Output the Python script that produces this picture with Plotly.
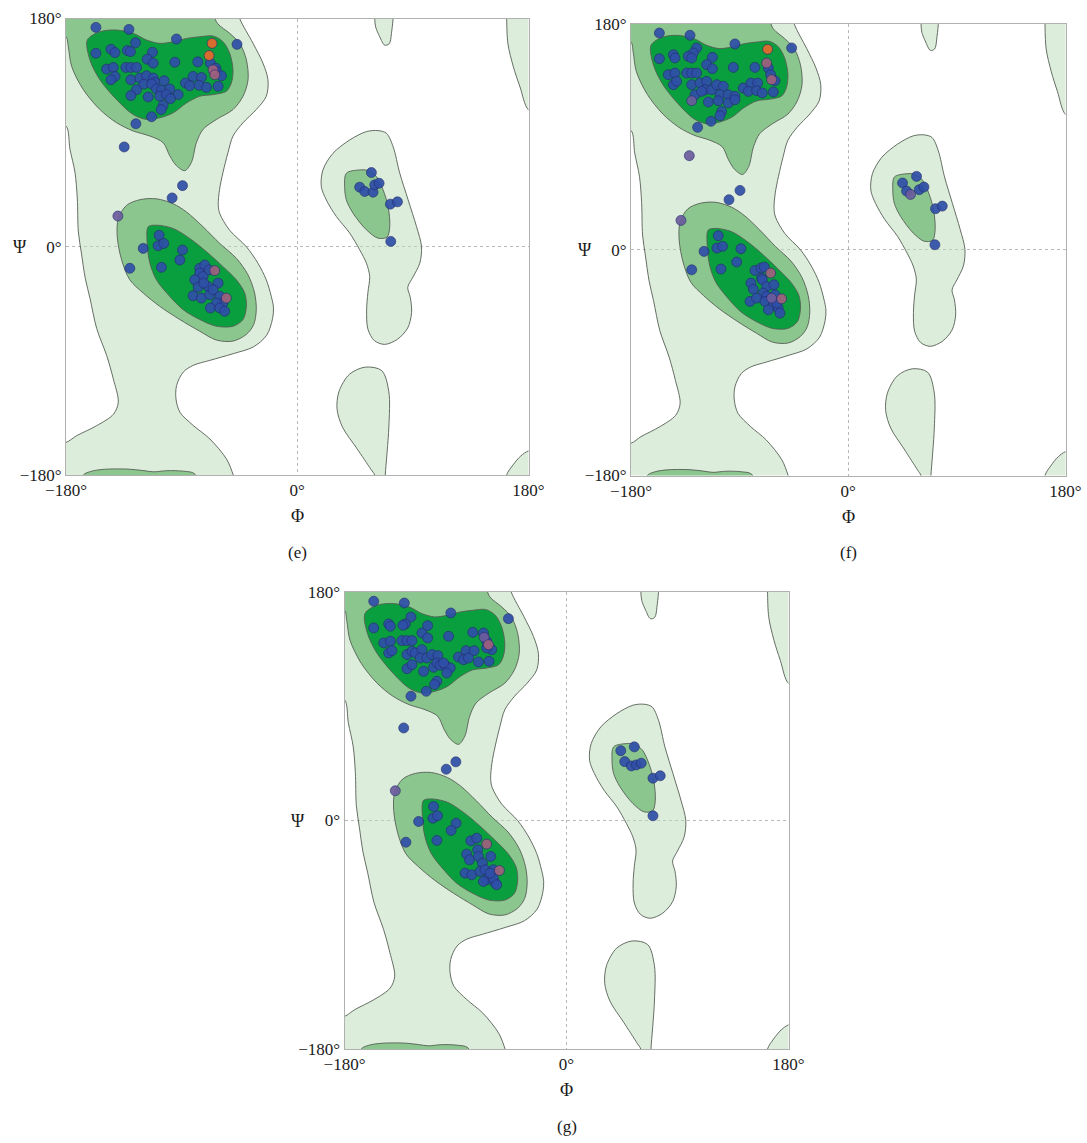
import plotly.graph_objects as go

# ---------------- contour regions (phi, psi in degrees) ----------------
LIGHT_MAIN_PHI = [-190, -47, -44.8, -34.4, -26.7, -22.8, -24.1, -31.9, -42.2, -50, -53.9, -57.8, -60.5, -61.5, -60.3, -52.6, -39.6,
                  -30.6, -24.1, -20.2, -18.5, -19.2, -23.8, -34.2, -49.8, -68, -80.9, -88.7, -93.9, -94.4, -91.3, -80.9, -68,
                  -55, -49.8, -47, -190, -190, -180, -171.7, -156.1, -143, -139.3, -143.2, -148.4, -156.1, -161.3, -165,
                  -168, -170.4, -171.2, -173, -176.9, -180, -190, -190]
LIGHT_MAIN_PSI = [190, 190, 180, 160.4, 144.8, 131.7, 118.7, 108.2, 97.8, 87.3, 74.3, 58.6, 45, 33, 26.1, 13, 0,
                  -13, -26.1, -39.2, -48, -56.6, -69.8, -79, -84.3, -89.6, -93.5, -98.8, -109.4, -119.9, -130.5, -141, -151.6,
                  -167.5, -180, -190, -190, -155, -154.3, -149, -141.1, -132, -122.6, -104.1, -85.6, -64.5, -40.7, -24.9,
                  -5, 11.7, 37.8, 58.6, 76.9, 95.2, 97, 190]

LIGHT_LH_PHI = [53.8, 62.9, 69.4, 74.6, 79.8, 86.3, 92.8, 96.7, 95.4, 90, 86, 88, 89, 86, 78, 68, 60, 55, 54, 55,
                56.4, 53.8, 48.6, 40.8, 30.4, 22.6, 18.7, 20, 27.8, 40.8, 53.8]
LIGHT_LH_PSI = [90.8, 91.6, 89.5, 79, 58, 37, 16, 0.3, -12.9, -24, -32, -40, -52, -64, -73, -77, -74, -65, -50, -36,
                -23.4, -12.9, -2.4, 10.8, 23.9, 37, 47.5, 60.6, 73.7, 84.2, 90.8]

LIGHT_TOPMID_PHI = [60.3, 60.3, 61, 64.2, 68, 71.5, 73.3, 73.3, 60.3]
LIGHT_TOPMID_PSI = [190, 180, 173.4, 165.6, 159, 160, 168, 190, 190]

LIGHT_TOPRIGHT_PHI = [163, 190, 190, 180, 173.4, 168.2, 164, 163, 163]
LIGHT_TOPRIGHT_PSI = [190, 190, 106, 108, 126, 142, 160, 180, 190]

LIGHT_BOTRIGHT_PHI = [163, 163, 168, 174, 180, 190, 190, 163]
LIGHT_BOTRIGHT_PSI = [-190, -180, -172, -165, -161, -160, -190, -190]

LIGHT_BOTMID_PHI = [40.7, 53.2, 65.8, 71.3, 71.3, 68.5, 68, 60, 60.2, 57.4, 46.3, 35.2, 31, 32.4, 40.7]
LIGHT_BOTMID_PSI = [-100.5, -94.9, -97.7, -114.4, -142.2, -180, -190, -190, -180, -175.6, -158.9, -142.2, -128.3, -114.4, -100.5]

MED_BETA_PHI = [-190, -70, -62, -52.6, -44.8, -39.6, -38.3, -42.2, -50, -62.9, -73.3, -78.5, -82.4, -87.5, -94, -99.2,
                -104.4, -114.7, -127.7, -140.6, -153.6, -166.5, -175.6, -178.2, -180, -190, -190]
MED_BETA_PSI = [190, 190, 176, 168.3, 160.4, 147.4, 131.7, 118.7, 108.2, 100.4, 92.6, 82.1, 66.5, 60, 63.9, 71.7,
                82.1, 87.3, 91.3, 97.8, 108.2, 123.9, 142.2, 157.8, 165.6, 167, 190]

MED_BOT_PHI = [-168, -166.5, -160, -150, -132.8, -120, -112, -101.7, -88.7, -80, -78, -168]
MED_BOT_PSI = [-190, -180, -177, -175.5, -175.3, -176.5, -177.5, -176.6, -177, -179, -190, -190]

MED_ALPHA_PHI = [-139.3, -132.9, -122.5, -109.6, -96.6, -86.2, -73.3, -60.3, -47.4, -38.3, -33.2, -31.9, -33.9, -39.6,
                 -50, -62.9, -75.9, -91.4, -107, -119.9, -130.3, -136.7, -140.1, -139.3]
MED_ALPHA_PSI = [22.2, 32.6, 37.1, 37.8, 33.9, 27.4, 15.7, 2.6, -9.1, -22.2, -36.5, -49.6, -61.3, -69.1,
                 -74.4, -73.6, -66.6, -57.4, -47, -36.5, -26.1, -10.4, 7.8, 22.2]

MED_LH_PHI = [38.2, 48.6, 55.1, 61.6, 66.8, 70.7, 72, 69.9, 62.9, 53.8, 43.4, 38.2, 36.9, 38.2]
MED_LH_PSI = [58, 60.6, 60.1, 55.4, 44.9, 31.7, 16, 7.6, 6.8, 13.4, 26.5, 37, 47.5, 58]

DARK_BETA_PHI = [-163.4, -153.6, -140.6, -127.7, -117.3, -107, -96.6, -86.2, -75.9, -65.5, -57.8, -52.6, -50, -51.3,
                 -55.2, -65.5, -75.9, -86.2, -96.6, -107, -117.3, -127.7, -140.6, -153.6, -161.4, -163.4]
DARK_BETA_PSI = [163, 169.6, 170.9, 168.3, 163, 160.4, 161.7, 164.3, 165.6, 166.2, 161.7, 152.6, 139.5, 129.1,
                 122.6, 120, 118.7, 113.4, 105.6, 101.7, 100.4, 104.3, 116, 131.7, 147.4, 163]

DARK_ALPHA_PHI = [-116, -109.6, -96.6, -83.7, -70.7, -57.8, -47.4, -40.9, -39.6, -42.2, -50, -62.9, -75.9, -88.8,
                  -99.2, -109.6, -114.7, -116.8, -116]
DARK_ALPHA_PSI = [15.7, 17, 14.4, 6.5, -3.9, -15.7, -26.1, -36.5, -47, -57.4, -62.7, -62.7, -57.4, -49.6,
                  -39.2, -26.1, -13, 2.6, 15.7]

# ---------------- residues, panel (e) ----------------
E_BLUE_PHI = [-156.7, -131.0, -94, -125.9, -156.7, -145, -141.9, -132.3, -129.8, -112.7, -116.8, -112.1, -95.3, -77.4,
              -67.6, -63.4, -62.9, -148.4, -143.2, -141.9, -145, -133.4, -129.5, -125.1, -129.5, -122.5, -117.3, -112.1,
              -110.8, -103.6, -125.1, -119.4, -113.4, -109.6, -105.7, -99.2, -107, -101.8, -92.7, -129.5, -116, -98.7,
              -87, -83.7, -81.1, -74.6, -76.4, -70.7, -61.6, -59, -104.4, -105.9, -113.4, -125.6, -134.7, -46.9,
              -89.3, -97.4,
              -107.5, -108.3, -103.9, -119.9, -89.3, -91.4, -130.3, -105.7, -75.9, -72, -68.6, -75.9, -73.3, -79.8,
              -77.2, -69.4, -61.6, -72.8, -81.1, -74.6, -68.1, -65.5, -60.3, -57.8, -62.9, -67.6, -60.3, -56.5,
              57.7, 48.6, 52.5, 59, 60.3, 63.7, 72.5, 78, 72.8]
E_BLUE_PSI = [173, 171.4, 163.8, 160.9, 152.6, 155.7, 153.1, 154.7, 153.9, 153.4, 147.9, 144.8, 145.5, 145.8,
              144.8, 140.9, 138.2, 140.1, 141.4, 134.3, 131.7, 141.4, 141.4, 141.4, 131.7, 133, 134.8, 133,
              129.6, 130.9, 123.9, 128.3, 128.3, 124.4, 123.4, 124.4, 118.7, 120, 120, 119.2, 118.1, 116.8,
              129.1, 127, 134.3, 133.5, 127.3, 125.7, 126.5, 134.8, 111.4, 108.2, 102.5, 97, 78.7, 159.6,
              48.2, 38.5,
              9.1, 0.8, 2.6, -1.3, -2.6, -10.4, -17, -16.2, -17, -14.4, -18.3, -20.9, -23.5, -26.1,
              -31.9, -31.3, -28.7, -28.7, -38.6, -40.5, -37.8, -33.9, -39.1, -44.4, -44.4, -48.3, -48.3, -50.9,
              58.5, 47, 43.6, 43, 48.8, 50.1, 33.6, 35.4, 4.2]
E_ORANGE_PHI = [-66.3, -68.6]
E_ORANGE_PSI = [160.4, 150.8]
E_RED_PHI = [-65.5, -64.2, -64.2, -55.2]
E_RED_PSI = [139.5, 135.6, -18.8, -40.5]
E_PURPLE_PHI = [-139.6]
E_PURPLE_PSI = [24.2]

# ---------------- residues, panel (f) ----------------
F_BLUE_PHI = [-156.5, -131.1, -93.9, -46.9, -125.6, -128.4, -156.5, -144.9, -143.6, -132.5, -129.7, -112.6, -117.3,
              -112.6, -95.2, -77.3, -66.2, -64.3, -60.7, -149.1, -143.6, -144.9, -142.2, -133.9, -129.7, -125.6,
              -129.7, -122.8, -117.3, -118.7, -113.2, -109, -103.5, -127, -121.5, -106.3, -99.4, -93.9, -115.9,
              -107.7, -99.4, -93.9, -87, -80.6, -75.1, -82.8, -75.9, -71.2, -62.1, -104.9, -106.3, -113.7, -124.8,
              -89.7, -98.8,
              -107.7, -108.8, -104.1, -119.5, -88.9, -92.5, -129.7, -105.5, -77.3, -72.3, -69.6, -71.8, -80.6, -78.7,
              -71.2, -67.6, -61.6, -70.4, -81.4, -75.9, -67.6, -60.7, -69, -62.1, -58, -66.2, -56.6, -59.3,
              56.6, 45, 48.3, 58.8, 62.7, 72.3, 77.9, 71.8]
F_BLUE_PSI = [172.8, 171, 164.1, 160.9, 160.9, 156.9, 152.3, 155.5, 152.9, 154.2, 152.9, 153.4, 147.6,
              144.4, 145.4, 145.4, 144.9, 139.6, 134.8, 139.6, 140.9, 131.6, 134.3, 140.9, 140.9, 140.9,
              131.6, 132.9, 134.3, 127.6, 127.6, 131.6, 130.3, 123.6, 126.3, 123.6, 123.6, 122.3, 117.8,
              118.8, 117, 119.6, 128.9, 132.9, 132.9, 126.3, 126.8, 125, 125.8, 110.3, 106.9, 102.4, 97.6,
              47.3, 39.9,
              11.2, 1.3, 2.7, -1.3, 0.8, -9.8, -16, -15.4, -16.5, -14.6, -13.8, -22.6, -26.6, -31.4,
              -23.9, -29.3, -27.9, -34.6, -41.2, -38.6, -37.2, -35.9, -41.2, -43.9, -46.5, -47.9, -50.5, -42.5,
              58.5, 53.2, 46.8, 47.9, 50, 32.7, 34.8, 4]
F_ORANGE_PHI = [-66.8]
F_ORANGE_PSI = [159.8]
F_RED_PHI = [-67.6, -63.5, -64.3, -55.2]
F_RED_PSI = [148.9, 135.6, -18.6, -39.1]
F_PURPLE_PHI = [-131.7, -138.6, -129.7, -63.5, 51.6]
F_PURPLE_PSI = [75, 23.4, 118.8, -38.6, 44.1]

# ---------------- residues, panel (g) ----------------
G_BLUE_PHI = [-156.3, -131.5, -93.8, -47.1, -126.1, -130.7, -132.6, -156.3, -144.2, -142.8, -117.2, -112.6, -112.6,
              -95.6, -76, -67.3, -64.7, -60.6, -64.7, -148.2, -142.8, -144.2, -141.5, -133.4, -129.3, -125.3, -129.3,
              -125.3, -122.6, -117.2, -118.6, -113.2, -109.1, -104.3, -129.3, -125.3, -115.9, -107.8, -105.1, -102.4,
              -98.3, -94.3, -97, -99.7, -87.6, -81.4, -74.9, -83.5, -79.5, -71.4, -62.8, -105.1, -107, -113.7, -126.1,
              -132, -89.7, -97.5,
              -107.8, -108.3, -104.6, -119.9, -89.5, -93.5, -130.2, -105.1, -77.6, -72.8, -72, -80.9, -78.7, -71.4,
              -68.2, -61.4, -82.2, -76.8, -70.1, -66, -59.3, -64.7, -57.9, -67.4, -59.3, -56.6, -62,
              44, 55, 47.2, 52.6, 56.6, 60.6, 70.1, 76, 70.1]
G_BLUE_PSI = [172.7, 171.3, 163.5, 159, 160.3, 154.8, 153.8, 151.7, 154.8, 153, 147.7, 153.5, 143.8,
              145.1, 148.2, 147.7, 141.2, 134.6, 135.9, 139.9, 141.2, 132, 133.8, 141.7, 141.7, 141.7, 130.7,
              133.3, 132, 134.6, 128, 128, 130.7, 129.9, 119.6, 122.8, 117.5, 120.7, 124.1, 122.3,
              122.3, 120.2, 116.2, 124.1, 128.8, 133.8, 133.8, 126.7, 128, 124.9, 125.4, 109.7, 107.1, 101.8, 97.9,
              72.9, 46.2, 40.4,
              11, 1.8, 3.7, -0.8, -2.1, -7.9, -17.1, -15.7, -16, -13.9, -23.1, -26.5, -31, -28.3,
              -33.6, -28.3, -41.5, -42.8, -40.1, -38.8, -38.8, -46.7, -49.3, -48, -45.4, -50.6, -41.5,
              55, 58, 46.4, 43, 43.8, 45.1, 33.3, 35.2, 3.7]
G_RED_PHI = [-63.3, -64.7, -54.4]
G_RED_PSI = [138.5, -18.6, -39.4]
G_PURPLE_PHI = [-66.8, -138.8]
G_PURPLE_PSI = [144.3, 23.4]

AXIS_LABELS = ["\u2212180\u00b0", "0\u00b0", "180\u00b0"]
AXIS_VALS = [-180, 0, 180]

LIGHT = "rgba(190,221,186,0.52)"
MED = "rgb(140,198,143)"
DARK = "rgb(10,159,62)"
EDGE = "rgba(85,95,85,0.9)"
FONT = "Liberation Serif"

panels = [
    dict(ax="", dom_x=(66, 528.5), dom_y=(18.5, 475), label="(e)",
         blue=(E_BLUE_PHI, E_BLUE_PSI), orange=(E_ORANGE_PHI, E_ORANGE_PSI),
         red=(E_RED_PHI, E_RED_PSI), purple=(E_PURPLE_PHI, E_PURPLE_PSI)),
    dict(ax="2", dom_x=(631, 1065.5), dom_y=(24, 475.5), label="(f)",
         blue=(F_BLUE_PHI, F_BLUE_PSI), orange=(F_ORANGE_PHI, F_ORANGE_PSI),
         red=(F_RED_PHI, F_RED_PSI), purple=(F_PURPLE_PHI, F_PURPLE_PSI)),
    dict(ax="3", dom_x=(344.5, 788.5), dom_y=(592, 1049), label="(g)",
         blue=(G_BLUE_PHI, G_BLUE_PSI), orange=([], []),
         red=(G_RED_PHI, G_RED_PSI), purple=(G_PURPLE_PHI, G_PURPLE_PSI)),
]

W, H = 1087, 1143
fig = go.Figure()

regions = [
    (LIGHT_MAIN_PHI, LIGHT_MAIN_PSI, LIGHT), (LIGHT_LH_PHI, LIGHT_LH_PSI, LIGHT),
    (LIGHT_TOPMID_PHI, LIGHT_TOPMID_PSI, LIGHT), (LIGHT_TOPRIGHT_PHI, LIGHT_TOPRIGHT_PSI, LIGHT),
    (LIGHT_BOTRIGHT_PHI, LIGHT_BOTRIGHT_PSI, LIGHT), (LIGHT_BOTMID_PHI, LIGHT_BOTMID_PSI, LIGHT),
    (MED_BETA_PHI, MED_BETA_PSI, MED), (MED_BOT_PHI, MED_BOT_PSI, MED),
    (MED_ALPHA_PHI, MED_ALPHA_PSI, MED), (MED_LH_PHI, MED_LH_PSI, MED),
    (DARK_BETA_PHI, DARK_BETA_PSI, DARK), (DARK_ALPHA_PHI, DARK_ALPHA_PSI, DARK),
]

layout = dict(width=W, height=H, margin=dict(l=0, r=0, t=0, b=0, autoexpand=False), showlegend=False,
              plot_bgcolor="white", paper_bgcolor="white", annotations=[])

for p in panels:
    a = p["ax"]
    xa, ya = "x" + a, "y" + a
    for phi, psi, col in regions:
        fig.add_trace(go.Scatter(x=phi, y=psi, mode="lines", fill="toself", fillcolor=col,
                                 line=dict(color=EDGE, width=1, shape="spline", smoothing=0.9),
                                 hoverinfo="skip", xaxis=xa, yaxis=ya))
    for key, col in [("blue", "#2f4fa8"), ("purple", "#6c5c9e"), ("red", "#a0607e"), ("orange", "#e8692d")]:
        px_, py_ = p[key]
        if len(px_) == 0:
            continue
        fig.add_trace(go.Scatter(x=px_, y=py_, mode="markers",
                                 marker=dict(size=10, color=col, opacity=0.92,
                                             line=dict(color="rgba(35,45,110,0.85)", width=0.8)),
                                 xaxis=xa, yaxis=ya))
    x0, x1 = p["dom_x"]
    y0, y1 = p["dom_y"]
    axis_common = dict(range=[-180, 180], tickvals=AXIS_VALS, ticktext=AXIS_LABELS, showgrid=True,
                       gridcolor="#b8b8b8", griddash="3px,3px", gridwidth=1, zeroline=False,
                       showline=True, linecolor="#b0b0b0", linewidth=1, mirror=True, ticks="",
                       automargin=False,
                       tickfont=dict(family=FONT, size=17, color="#1a1a1a"), fixedrange=True)
    layout["xaxis" + a] = dict(axis_common, domain=[x0 / W, x1 / W], anchor=ya)
    layout["yaxis" + a] = dict(axis_common, domain=[1 - y1 / H, 1 - y0 / H], anchor=xa)
    xc = (x0 + x1) / 2
    ym = (y0 + y1) / 2
    common_ann = dict(xref="paper", yref="paper", showarrow=False, xanchor="center", yanchor="middle")
    layout["annotations"] += [
        dict(common_ann, x=xc / W, y=1 - (y1 + 41) / H, text="\u03a6",
             font=dict(family=FONT, size=18, color="#1a1a1a")),
        dict(common_ann, x=xc / W, y=1 - (y1 + 77) / H, text=p["label"],
             font=dict(family=FONT, size=17, color="#1a1a1a")),
        dict(common_ann, x=(x0 - 46) / W, y=1 - ym / H, text="\u03a8",
             font=dict(family=FONT, size=18, color="#1a1a1a")),
    ]

fig.update_layout(**layout)
fig.write_html("out.html", config={"displayModeBar": False},
               post_script="document.body.style.margin='0';document.body.style.overflow='hidden';")
